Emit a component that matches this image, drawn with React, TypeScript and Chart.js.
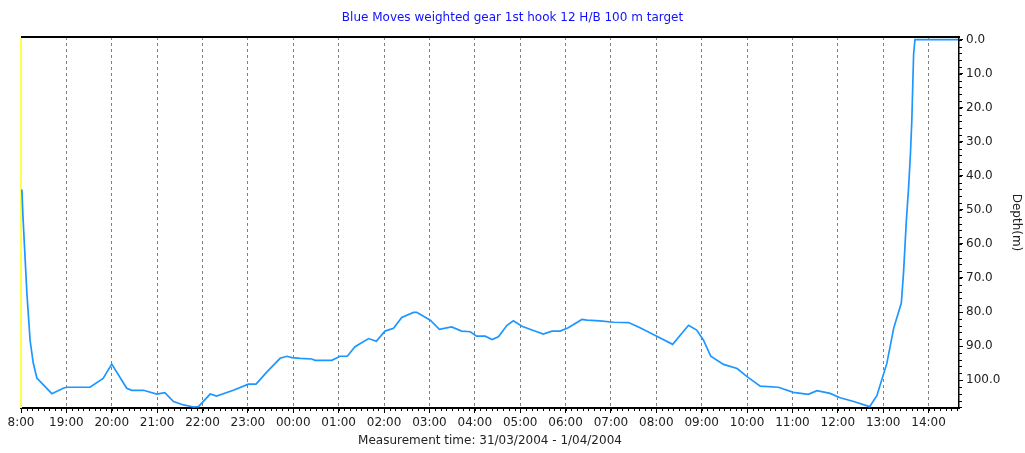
import React, { useEffect, useRef } from "react";
import { Chart, registerables } from "chart.js";

Chart.register(...registerables);

const chartTitle = "Blue Moves weighted gear 1st hook 12 H/B 100 m target";
const xAxisTitle = "Measurement time: 31/03/2004 - 1/04/2004";
const yAxisTitle = "Depth(m)";

// hours elapsed since 18:00 on 31/03/2004
const elapsedHours = [
  0.02, 0.04, 0.07, 0.13, 0.2, 0.27, 0.35, 0.68, 0.93, 1.01,
  1.52, 1.81, 2.0, 2.33, 2.44, 2.7, 2.99, 3.17, 3.36, 3.58,
  3.8, 3.91, 4.17, 4.31, 4.68, 5.01, 5.18, 5.42, 5.71, 5.86,
  5.97, 6.15, 6.41, 6.48, 6.85, 7.03, 7.19, 7.36, 7.66, 7.83,
  8.02, 8.21, 8.39, 8.65, 8.72, 9.02, 9.22, 9.49, 9.71, 9.9,
  10.04, 10.23, 10.38, 10.52, 10.71, 10.85, 11.04, 11.26, 11.51, 11.7,
  11.88, 12.06, 12.36, 12.47, 12.76, 13.06, 13.39, 13.64, 14.01, 14.36,
  14.71, 14.89, 15.04, 15.2, 15.48, 15.78, 16.0, 16.29, 16.69, 17.02,
  17.35, 17.54, 17.83, 18.05, 18.35, 18.7, 18.86, 19.08, 19.23, 19.4,
  19.45, 19.51, 19.56, 19.6, 19.63, 19.65, 19.67, 19.7, 20.65,
];

// depth in metres
const depthMetres = [
  44, 51, 59, 74.5, 88.3, 95, 99.4, 104, 102.4, 102.1,
  102.1, 99.5, 95.3, 102.4, 103, 103, 104.1, 103.7, 106.3, 107.3,
  107.9, 107.8, 104.1, 104.7, 103, 101.2, 101.2, 97.6, 93.6, 93,
  93.4, 93.6, 93.8, 94.2, 94.2, 93, 93, 90.2, 87.8, 88.6,
  85.6, 84.8, 81.6, 80.1, 80.1, 82.4, 85.1, 84.4, 85.6, 85.8,
  87.1, 87.1, 88.1, 87.3, 83.9, 82.6, 84.2, 85.3, 86.5, 85.6,
  85.6, 84.6, 82.2, 82.4, 82.6, 83, 83.1, 84.6, 87.1, 89.5,
  83.9, 85.3, 88.3, 93, 95.4, 96.6, 99, 101.8, 102.1, 103.6,
  104.2, 103.1, 103.9, 105.2, 106.3, 107.8, 104.6, 95.1, 84.8, 77.3,
  68, 53.1, 43.3, 33.5, 23.8, 14, 4.2, 0, 0,
];

// hour labels as shown (one per hour, starting at 18:00)
const xTickLabels = [
  "8:00", "19:00", "20:00", "21:00", "22:00", "23:00", "00:00",
  "01:00", "02:00", "03:00", "04:00", "05:00", "06:00", "07:00",
  "08:00", "09:00", "10:00", "11:00", "12:00", "13:00", "14:00",
];
const yTickValues = [0, 10, 20, 30, 40, 50, 60, 70, 80, 90, 100];

const xMaxHours = 20.67;
const yMinDepth = -0.8;
const yMaxDepth = 108.2;
const xMinorStep = 0.125;
const yMinorStep = 2;

const FONT = "'DejaVu Sans', Arial, sans-serif";

const framePlugin = {
  id: "frame",
  beforeDatasetsDraw(chart: any) {
    const { ctx, chartArea: a, scales } = chart;
    ctx.save();
    // top border
    ctx.strokeStyle = "#000";
    ctx.lineWidth = 2;
    ctx.beginPath();
    ctx.moveTo(a.left, a.top);
    ctx.lineTo(a.right + 1, a.top);
    ctx.stroke();
    // left yellow border
    ctx.strokeStyle = "#ffff50";
    ctx.lineWidth = 2;
    ctx.beginPath();
    ctx.moveTo(a.left, a.top + 1);
    ctx.lineTo(a.left, a.bottom);
    ctx.stroke();
    // minor ticks
    ctx.strokeStyle = "#000";
    ctx.lineWidth = 1;
    ctx.beginPath();
    const xs = scales.x;
    for (let v = 0; v <= xMaxHours + 1e-9; v += xMinorStep) {
      const px = Math.round(xs.getPixelForValue(v)) + 0.5;
      ctx.moveTo(px, a.bottom);
      ctx.lineTo(px, a.bottom + 3);
    }
    const ys = scales.y;
    for (let v = 0; v <= yMaxDepth + 1e-9; v += yMinorStep) {
      const py = Math.round(ys.getPixelForValue(v)) + 0.5;
      ctx.moveTo(a.right, py);
      ctx.lineTo(a.right + 3, py);
    }
    ctx.stroke();
    ctx.restore();
  },
};

export default function App() {
  const canvasRef = useRef<HTMLCanvasElement | null>(null);

  useEffect(() => {
    if (!canvasRef.current) return;
    const points = elapsedHours.map((h, i) => ({ x: h, y: depthMetres[i] }));
    const chart = new Chart(canvasRef.current, {
      type: "line",
      data: {
        datasets: [
          {
            data: points,
            xAxisID: "x",
            yAxisID: "y",
            borderColor: "#1e96ff",
            borderWidth: 1.7,
            pointRadius: 0,
            tension: 0,
            fill: false,
            clip: false,
          },
        ],
      },
      options: {
        animation: false,
        responsive: false,
        maintainAspectRatio: false,
        layout: { padding: 0 },
        plugins: {
          legend: { display: false },
          tooltip: { enabled: false },
          title: {
            display: true,
            text: chartTitle,
            color: "#1010ff",
            font: { family: FONT, size: 12, weight: "normal" },
            padding: { top: 11, bottom: 11.6 },
          },
        },
        scales: {
          x: {
            type: "linear",
            position: "bottom",
            min: 0,
            max: xMaxHours,
            afterBuildTicks: (scale: any) => {
              scale.ticks = xTickLabels.map((_, i) => ({ value: i }));
            },
            afterFit: (scale: any) => {
              scale.height = 45;
            },
            ticks: {
              autoSkip: false,
              maxRotation: 0,
              padding: 3,
              color: "#222",
              font: { family: FONT, size: 12 },
              callback: (_v: any, i: number) => xTickLabels[i],
            },
            grid: {
              color: (c: any) =>
                c.tick && c.tick.value === 0 ? "rgba(0,0,0,0)" : "#808080",
              lineWidth: 1,
              tickColor: "#000",
              tickLength: 5,
              tickBorderDash: [],
            },
            border: { display: true, color: "#000", width: 2, dash: [3, 3] },
            title: {
              display: true,
              text: xAxisTitle,
              color: "#222",
              font: { family: FONT, size: 12 },
              padding: { top: 3, bottom: 5 },
            },
          },
          yLeft: {
            type: "linear",
            position: "left",
            display: true,
            afterFit: (scale: any) => {
              scale.width = 21;
            },
            ticks: { display: false },
            grid: { display: false, drawTicks: false },
            border: { display: false },
          },
          y: {
            type: "linear",
            position: "right",
            reverse: true,
            min: yMinDepth,
            max: yMaxDepth,
            afterBuildTicks: (scale: any) => {
              scale.ticks = yTickValues.map((v) => ({ value: v }));
            },
            afterFit: (scale: any) => {
              scale.width = 66;
            },
            ticks: {
              padding: 3,
              color: "#222",
              font: { family: FONT, size: 12 },
              callback: (v: any) => Number(v).toFixed(1),
            },
            grid: {
              drawOnChartArea: false,
              tickColor: "#000",
              tickLength: 4,
            },
            border: { display: true, color: "#000", width: 1.5 },
            title: {
              display: true,
              text: yAxisTitle,
              color: "#222",
              font: { family: FONT, size: 12 },
              padding: { top: 2, bottom: 0 },
            },
          },
        },
      },
      plugins: [framePlugin],
    });
    return () => chart.destroy();
  }, []);

  return (
    <div
      style={{
        position: "absolute",
        left: 0,
        top: 0,
        width: 1025,
        height: 453,
        background: "#fff",
      }}
    >
      <canvas ref={canvasRef} width={1025} height={453} />
    </div>
  );
}
